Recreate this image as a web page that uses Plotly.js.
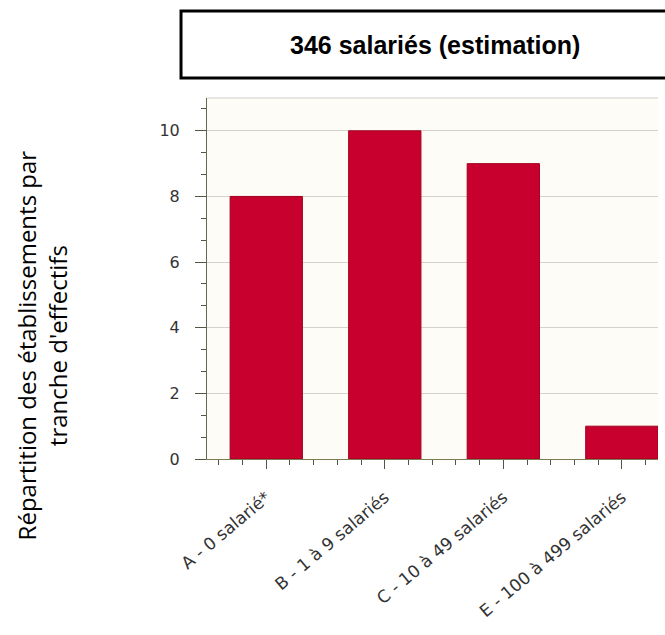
<!DOCTYPE html>
<html>
<head>
<meta charset="utf-8">
<script src="https://cdn.plot.ly/plotly-3.0.1.min.js"></script>
<style>
  html, body { margin: 0; padding: 0; background: #ffffff; overflow: hidden; }
  #chart { width: 665px; height: 635px; }
</style>
</head>
<body>
<div id="chart"></div>
<script>
// ---- data ----
const categories = ["A - 0 salarié*", "B - 1 à 9 salariés", "C - 10 à 49 salariés", "E - 100 à 499 salariés"];
const counts = [8, 10, 9, 1];
const yTickVals = [0, 2, 4, 6, 8, 10];
const chartTitle = "346 salariés (estimation)";
const yTitle = "Répartition des établissements par<br>tranche d'effectifs";

const xPos = categories.map((c, i) => i);

const trace = {
  type: "bar",
  x: xPos,
  y: counts,
  width: 0.61,
  marker: { color: "#c8002e", line: { color: "#a3001f", width: 1 } },
  hoverinfo: "y"
};

const layout = {
  width: 665,
  height: 635,
  margin: { l: 207, r: 7, t: 98, b: 176, pad: 0 },
  paper_bgcolor: "#ffffff",
  plot_bgcolor: "#fdfcf7",
  showlegend: false,
  font: { family: "DejaVu Sans, sans-serif", color: "#333333" },
  xaxis: {
    range: [-0.5, 3.305],
    tickvals: xPos,
    ticktext: categories,
    tickangle: -40,
    ticks: "outside",
    ticklen: 9,
    tickcolor: "#555544",
    tickfont: { family: "DejaVu Sans, sans-serif", size: 17, color: "#333333" },
    ticklabelstandoff: 12,
    showline: true,
    linecolor: "#7d7d55",
    linewidth: 1,
    showgrid: false,
    zeroline: false,
    minor: { dtick: 0.2, tick0: 0, ticks: "outside", ticklen: 5, tickcolor: "#555544", showgrid: false },
    fixedrange: true
  },
  yaxis: {
    range: [0, 11],
    tickvals: yTickVals,
    ticks: "outside",
    ticklen: 11,
    tickcolor: "#555544",
    tickfont: { family: "DejaVu Sans, sans-serif", size: 16, color: "#333333" },
    ticklabelstandoff: 12,
    showline: true,
    linecolor: "#666655",
    linewidth: 1,
    showgrid: true,
    gridcolor: "#d3d3cc",
    gridwidth: 1,
    zeroline: false,
    minor: { dtick: 2 / 3, tick0: 0, ticks: "outside", ticklen: 5, tickcolor: "#555544", showgrid: false },
    fixedrange: true
  },
  shapes: [
    { type: "rect", xref: "paper", yref: "paper", x0: -0.0576, x1: 1.05, y0: 1.0554, y1: 1.241,
      line: { color: "#000000", width: 3 }, fillcolor: "rgba(0,0,0,0)" },
    { type: "line", xref: "paper", yref: "paper", x0: 0, x1: 1, y0: 1, y1: 1,
      line: { color: "#cfcfc8", width: 1 } }
  ],
  annotations: [
    { text: "<b>" + chartTitle + "</b>", xref: "paper", yref: "paper", x: 0.5055, y: 1.147,
      xanchor: "center", yanchor: "middle", showarrow: false,
      font: { family: "Liberation Sans, Arial, sans-serif", size: 25, color: "#000000" } },
    { text: yTitle, xref: "paper", yref: "paper", x: -0.367, y: 0.316,
      xanchor: "center", yanchor: "middle", showarrow: false, textangle: -90,
      font: { family: "Open Sans, sans-serif", size: 24, color: "#000000" } }
  ]
};

Plotly.newPlot("chart", [trace], layout, { displayModeBar: false, staticPlot: true });
</script>
</body>
</html>
